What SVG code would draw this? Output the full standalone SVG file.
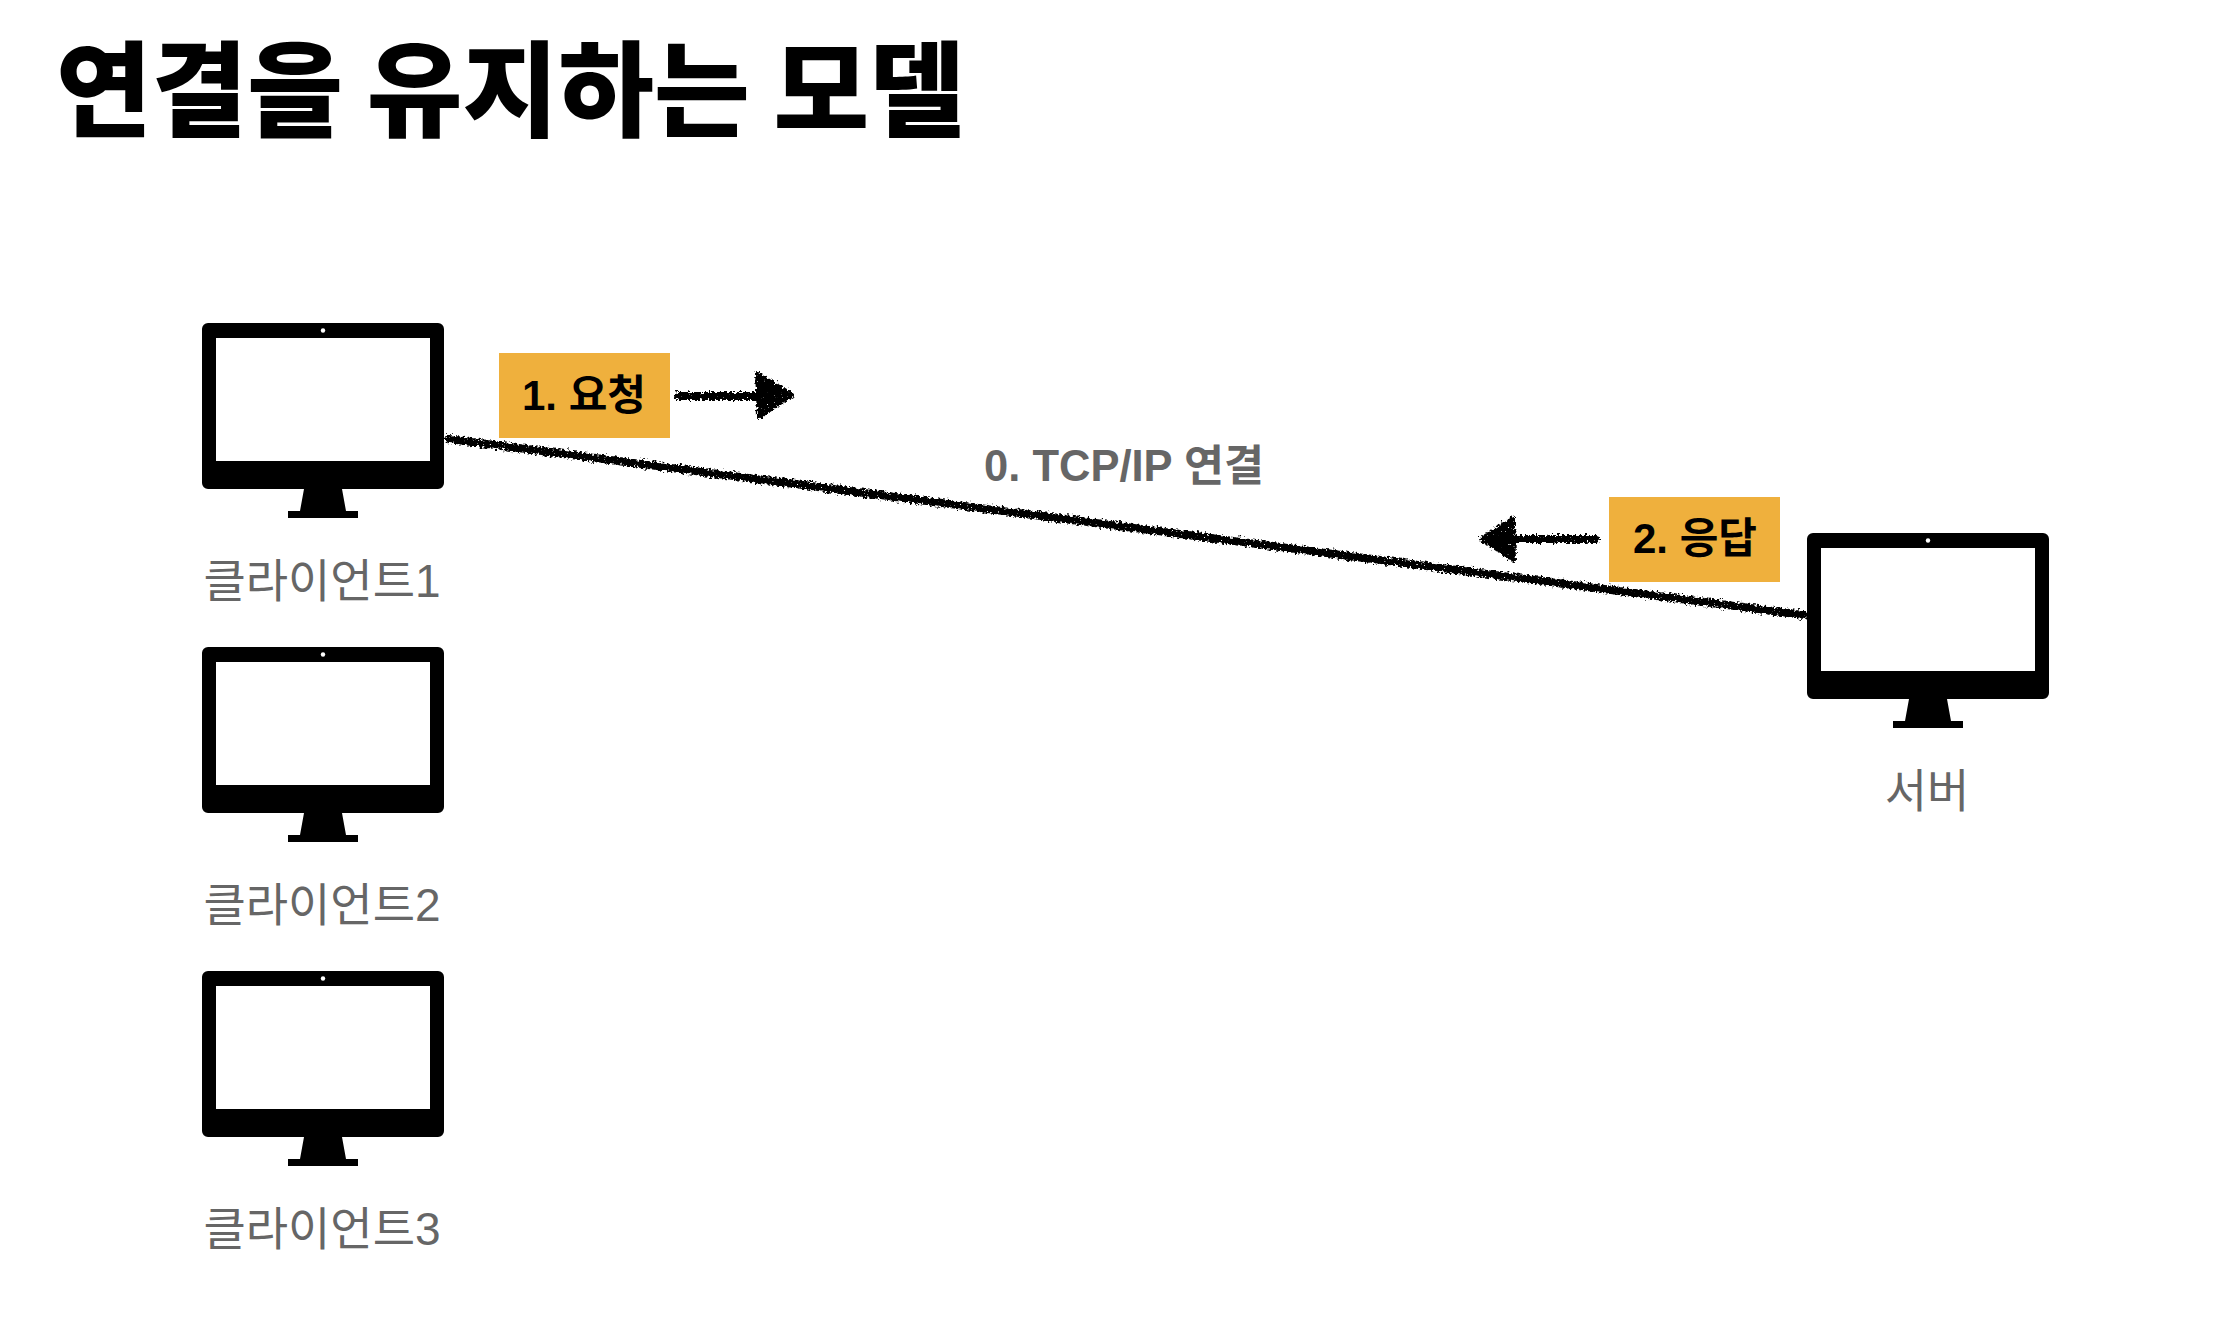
<svg xmlns="http://www.w3.org/2000/svg" width="2228" height="1320" viewBox="0 0 2228 1320">
<style>
.cjk{font-family:"Noto Sans CJK KR","Liberation Sans",sans-serif}
.title{font-size:104px;font-weight:900;fill:#000}
.lab{font-family:"Liberation Sans","Noto Sans CJK KR",sans-serif;font-size:46px;fill:#666;text-anchor:middle}
.tag{font-family:"Liberation Sans","Noto Sans CJK KR",sans-serif;font-size:42px;font-weight:700;fill:#000;text-anchor:middle}
.conn{font-family:"Liberation Sans","Noto Sans CJK KR",sans-serif;font-size:43.5px;font-weight:700;fill:#666;text-anchor:middle}
.box{fill:#EFB03D}
.rough{fill:none;stroke:#000;stroke-width:8;stroke-linecap:round}
.head{fill:#000;stroke:#000;stroke-width:4;stroke-linejoin:round}
</style>
<defs>
<filter id="chalk" filterUnits="userSpaceOnUse" x="400" y="340" width="1450" height="320">
<feTurbulence type="fractalNoise" baseFrequency="0.4" numOctaves="2" seed="4" result="n"/>
<feDisplacementMap in="SourceGraphic" in2="n" scale="7" xChannelSelector="R" yChannelSelector="G" result="d"/>
<feTurbulence type="fractalNoise" baseFrequency="0.7" numOctaves="1" seed="9"/>
<feColorMatrix type="matrix" values="0 0 0 0 0  0 0 0 0 0  0 0 0 0 0  12 0 0 0 -2.6"/>
<feComposite in="d" operator="in"/>
</filter>
<g id="monitor">
<path fill-rule="evenodd" d="M208 323H438a6 6 0 0 1 6 6V483a6 6 0 0 1-6 6H342L346 511H358V518H288V511H300L304 489H208a6 6 0 0 1-6-6V329a6 6 0 0 1 6-6ZM216 338V461H430V338Z" fill="#000"/>
<circle cx="323" cy="330.5" r="2.2" fill="#fff"/>
</g>
</defs>
<rect width="2228" height="1320" fill="#fff"/>
<text class="cjk title" x="56" y="129">연결을 유지하는 모델</text>
<g id="client1"><use href="#monitor"/><text class="lab" x="322" y="597">클라이언트1</text></g>
<g id="client2"><use href="#monitor" y="324"/><text class="lab" x="322" y="921">클라이언트2</text></g>
<g id="client3"><use href="#monitor" y="648"/><text class="lab" x="322" y="1245">클라이언트3</text></g>
<g id="server"><use href="#monitor" x="1605" y="210"/><text class="lab" x="1927" y="807">서버</text></g>
<g id="connectors" filter="url(#chalk)">
<path class="rough" d="M449 439L1804 615"/>
<path class="rough" d="M678 396H765"/>
<path class="head" d="M757 373L792 395L759 417Z"/>
<path class="rough" d="M1596 539H1510"/>
<path class="head" d="M1513 518L1481 539L1514 560Z"/>
</g>
<g id="request"><rect class="box" x="499" y="353" width="171" height="85"/><text class="tag" x="584" y="410">1. 요청</text></g>
<g id="response"><rect class="box" x="1609" y="497" width="171" height="85"/><text class="tag" x="1695" y="553">2. 응답</text></g>
<g id="conn-label"><text class="conn" x="1124" y="481">0. TCP/IP 연결</text></g>
</svg>
